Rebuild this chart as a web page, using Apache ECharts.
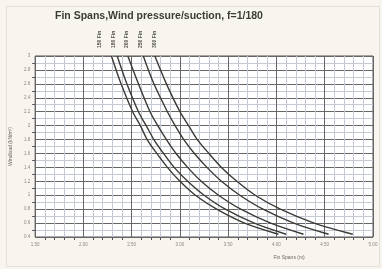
<!DOCTYPE html>
<html>
<head>
<meta charset="utf-8">
<script src="https://cdn.jsdelivr.net/npm/echarts@6/dist/echarts.min.js"></script>
<style>
html,body{margin:0;padding:0;background:#f7f5ee;}
#chart{width:382px;height:269px;}
</style>
</head>
<body>
<div id="chart"></div>
<script>
// wind load levels (kN/m2) the curves were read at
var loads = [3, 2.6, 2.2, 2.0, 1.8, 1.6, 1.4, 1.2, 1.0, 0.8, 0.6, 0.44];
// fin spans (m) for each curve
var spanA = [2.29, 2.39, 2.51, 2.59, 2.66, 2.76, 2.87, 3.00, 3.16, 3.38, 3.67, 4.02];
var spanB = [2.35, 2.45, 2.57, 2.65, 2.73, 2.83, 2.94, 3.08, 3.25, 3.47, 3.77, 4.10];
var spanC = [2.46, 2.57, 2.69, 2.77, 2.86, 2.96, 3.08, 3.22, 3.40, 3.63, 3.94, 4.28];
var spanD = [2.62, 2.73, 2.87, 2.95, 3.04, 3.15, 3.28, 3.43, 3.62, 3.86, 4.18, 4.54];
var spanE = [2.74, 2.86, 3.00, 3.09, 3.18, 3.30, 3.43, 3.59, 3.78, 4.04, 4.39, 4.79];
var curveNames = ['150 Fin', '180 Fin', '200 Fin', '250 Fin', '300 Fin'];

var myChart = echarts.init(document.getElementById('chart'));

function pairs(xs){
  return xs.map(function(x, i){ return [x, loads[i]]; });
}
var allSpans = [spanA, spanB, spanC, spanD, spanE];
var labelX = [97, 111, 124, 138, 152];

var series = allSpans.map(function(s, i){
  return {
    name: curveNames[i],
    type: 'line',
    smooth: 0.3,
    symbol: 'none',
    lineStyle: {color: '#3a3a36', width: 1.4},
    data: pairs(s)
  };
});

var graphics = [{
  type: 'rect', left: 4, top: 4,
  shape: {width: 373, height: 260},
  style: {fill: 'none', stroke: '#e2e0d8', lineWidth: 1}
}];
curveNames.forEach(function(n, i){
  graphics.push({
    type: 'text', x: labelX[i], y: 48, rotation: Math.PI / 2,
    style: {text: n, fill: '#55534a', font: 'bold 5px "Liberation Sans"'}
  });
});

var option = {
  backgroundColor: '#f7f5ee',
  animation: false,
  title: {
    text: 'Fin Spans,Wind pressure/suction, f=1/180',
    left: 50, top: 6,
    textStyle: {fontSize: 10.5, fontWeight: 'bold', color: '#3c3b36', fontFamily: 'Liberation Sans'}
  },
  grid: {left: 31, right: 9, top: 56, bottom: 32, show: true, backgroundColor: '#ffffff', borderColor: '#555', borderWidth: 1},
  xAxis: {
    type: 'value', min: 1.5, max: 5, interval: 0.5,
    name: 'Fin Spans (m)', nameLocation: 'middle', nameGap: 18,
    nameTextStyle: {fontSize: 5, color: '#6a685f', padding: [0, 0, 0, 170]},
    axisLine: {show: false}, axisTick: {show: false},
    axisLabel: {fontSize: 4.5, color: '#8a887e', margin: 5, formatter: function(v){ return v.toFixed(2); }},
    splitLine: {show: true, lineStyle: {color: '#666', width: 1}},
    minorTick: {show: true, splitNumber: 5},
    minorSplitLine: {show: true, lineStyle: {color: '#c3cad4', width: 1}}
  },
  yAxis: {
    type: 'value', min: 0.4, max: 3, interval: 0.2,
    name: 'Windload (kN/m²)', nameLocation: 'middle', nameGap: 18, nameRotate: 90,
    nameTextStyle: {fontSize: 5, color: '#6a685f'},
    axisLine: {show: false}, axisTick: {show: false},
    axisLabel: {fontSize: 4.5, color: '#8a887e', margin: 5, interval: 0, hideOverlap: false,
      formatter: function(v){ return String(+v.toFixed(1)); }},
    splitLine: {show: true, lineStyle: {color: '#666', width: 1}},
    minorTick: {show: true, splitNumber: 2},
    minorSplitLine: {show: true, lineStyle: {color: '#c3cad4', width: 1}}
  },
  graphic: graphics,
  series: series
};
myChart.setOption(option);
</script>
</body>
</html>
